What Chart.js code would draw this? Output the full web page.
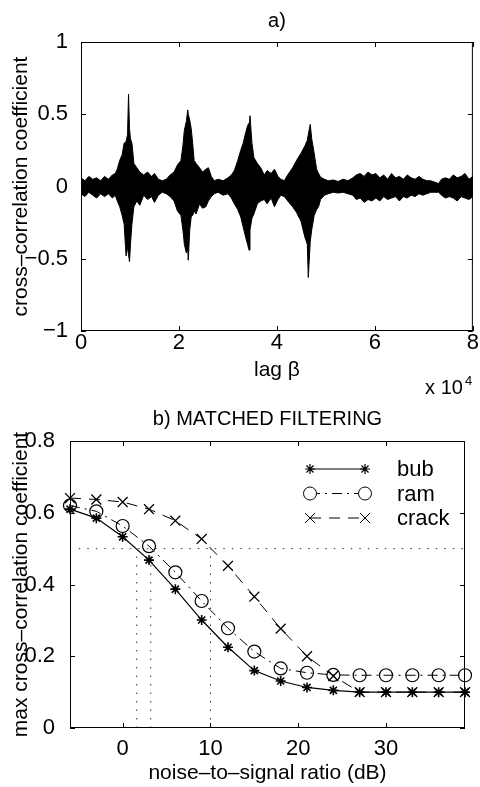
<!DOCTYPE html>
<html>
<head>
<meta charset="utf-8">
<script src="https://cdn.jsdelivr.net/npm/chart.js@4/dist/chart.umd.min.js"></script>
<style>
  html, body { margin: 0; padding: 0; background: #fff; }
  #wrap { position: relative; width: 480px; height: 787px; }
  .panel { position: absolute; left: 0; width: 480px; }
</style>
</head>
<body>
<div id="wrap">
  <div class="panel" style="top:0;height:400px"><canvas id="corrChart" width="480" height="400"></canvas></div>
  <div class="panel" style="top:400px;height:387px"><canvas id="mfChart" width="480" height="387"></canvas></div>
</div>
<script>
// ---- a) cross-correlation: envelope of the trace, lag in units of 1e4 ----
const lagK = [0.00, 0.08, 0.16, 0.24, 0.32, 0.40, 0.48, 0.56, 0.64, 0.70, 0.74, 0.79, 0.84, 0.88, 0.92, 0.95, 0.97, 0.99, 1.01, 1.04,
  1.08, 1.14, 1.20, 1.28, 1.36, 1.44, 1.50, 1.58, 1.66, 1.74, 1.82, 1.90, 1.97, 2.04, 2.08, 2.11, 2.15, 2.18, 2.19, 2.22,
  2.25, 2.28, 2.31, 2.35, 2.42, 2.48, 2.55, 2.60, 2.66, 2.72, 2.80, 2.90, 3.00, 3.07, 3.13, 3.20, 3.26, 3.31, 3.36, 3.40,
  3.43, 3.45, 3.49, 3.53, 3.60, 3.67, 3.74, 3.80, 3.88, 3.95, 4.02, 4.08, 4.15, 4.22, 4.32, 4.40, 4.49, 4.57, 4.62, 4.64,
  4.68, 4.71, 4.76, 4.81, 4.85, 4.89, 4.97, 5.05, 5.15, 5.25, 5.35, 5.45, 5.55, 5.62, 5.70, 5.78, 5.86, 5.94, 6.02, 6.10,
  6.18, 6.26, 6.34, 6.42, 6.50, 6.58, 6.66, 6.74, 6.82, 6.90, 6.98, 7.06, 7.14, 7.22, 7.30, 7.36, 7.44, 7.52, 7.60, 7.68,
  7.76, 7.84, 7.92, 8.00];
const corrUpper = [0.06, 0.04, 0.07, 0.05, 0.06, 0.04, 0.07, 0.05, 0.08, 0.09, 0.12, 0.18, 0.22, 0.30, 0.31, 0.36, 0.64, 0.40, 0.33, 0.30,
  0.16, 0.13, 0.10, 0.08, 0.10, 0.07, 0.09, 0.05, 0.04, 0.05, 0.08, 0.10, 0.15, 0.18, 0.28, 0.39, 0.45, 0.53, 0.50, 0.46,
  0.40, 0.30, 0.18, 0.16, 0.13, 0.10, 0.12, 0.13, 0.07, 0.04, 0.05, 0.04, 0.06, 0.08, 0.11, 0.18, 0.25, 0.30, 0.37, 0.42,
  0.44, 0.49, 0.30, 0.20, 0.16, 0.13, 0.08, 0.11, 0.09, 0.12, 0.07, 0.05, 0.04, 0.08, 0.13, 0.18, 0.23, 0.28, 0.32, 0.36,
  0.43, 0.33, 0.23, 0.12, 0.09, 0.065, 0.05, 0.04, 0.045, 0.035, 0.05, 0.04, 0.06, 0.08, 0.09, 0.07, 0.10, 0.08, 0.09, 0.06,
  0.08, 0.05, 0.09, 0.06, 0.07, 0.05, 0.08, 0.06, 0.05, 0.07, 0.05, 0.04, 0.04, 0.03, 0.02, 0.05, 0.06, 0.05, 0.08, 0.06,
  0.07, 0.09, 0.05, 0.07];
const corrLower = [-0.05, -0.07, -0.04, -0.06, -0.08, -0.05, -0.07, -0.05, -0.08, -0.06, -0.10, -0.14, -0.20, -0.26, -0.48, -0.42, -0.47, -0.52, -0.40, -0.26,
  -0.14, -0.10, -0.13, -0.06, -0.09, -0.07, -0.11, -0.06, -0.04, -0.05, -0.07, -0.10, -0.17, -0.20, -0.30, -0.40, -0.46, -0.44, -0.51, -0.30,
  -0.21, -0.20, -0.17, -0.19, -0.12, -0.15, -0.14, -0.10, -0.07, -0.05, -0.04, -0.06, -0.05, -0.08, -0.12, -0.16, -0.21, -0.28, -0.35, -0.40,
  -0.44, -0.30, -0.22, -0.19, -0.12, -0.10, -0.09, -0.12, -0.08, -0.14, -0.09, -0.06, -0.07, -0.10, -0.14, -0.18, -0.24, -0.35, -0.40, -0.63,
  -0.38, -0.30, -0.20, -0.16, -0.14, -0.09, -0.06, -0.05, -0.04, -0.045, -0.04, -0.05, -0.06, -0.09, -0.08, -0.11, -0.09, -0.10, -0.08, -0.10,
  -0.07, -0.09, -0.08, -0.07, -0.10, -0.07, -0.08, -0.06, -0.07, -0.05, -0.06, -0.05, -0.04, -0.04, -0.04, -0.06, -0.08, -0.07, -0.08, -0.10,
  -0.07, -0.08, -0.09, -0.07];
const lagTicks = [0, 2, 4, 6, 8];
const corrTicks = [-1, -0.5, 0, 0.5, 1];

// ---- b) matched filtering ----
const nsrDb = [-6, -3, 0, 3, 6, 9, 12, 15, 18, 21, 24, 27, 30, 33, 36, 39];
const bubMax = [0.61, 0.585, 0.533, 0.468, 0.387, 0.301, 0.225, 0.16, 0.131, 0.113, 0.105, 0.1, 0.1, 0.1, 0.1, 0.1];
const ramMax = [0.62, 0.604, 0.563, 0.507, 0.434, 0.354, 0.278, 0.213, 0.166, 0.154, 0.148, 0.147, 0.147, 0.147, 0.147, 0.147];
const crackMax = [0.641, 0.637, 0.63, 0.61, 0.578, 0.527, 0.452, 0.366, 0.277, 0.2, 0.145, 0.1, 0.1, 0.1, 0.1, 0.1];
const nsrTicks = [0, 10, 20, 30];
const maxTicks = [0, 0.2, 0.4, 0.6, 0.8];
const halfLevel = 0.5;
const halfStart = -5;
const halfCross = [1.6, 3.2, 10];

Chart.defaults.font.family = "'Liberation Sans', Arial, Helvetica, sans-serif";
Chart.defaults.color = '#000';

const fmt = v => String(v).replace('-', '\u2212');

// box around the axes with small inward ticks, matlab style
const boxTicks = {
    id: 'boxTicks',
    afterDatasetsDraw(chart) {
        const { ctx, chartArea: a, scales: { x, y } } = chart;
        const len = 5;
        ctx.save();
        ctx.strokeStyle = '#000';
        ctx.lineWidth = 1;
        ctx.strokeRect(a.left + 0.5, a.top + 0.5, a.width - 1, a.height - 1);
        ctx.beginPath();
        x.ticks.forEach(t => {
            const px = Math.round(x.getPixelForValue(t.value)) + 0.5;
            ctx.moveTo(px, a.bottom); ctx.lineTo(px, a.bottom - len);
            ctx.moveTo(px, a.top); ctx.lineTo(px, a.top + len);
        });
        y.ticks.forEach(t => {
            const py = Math.round(y.getPixelForValue(t.value)) + 0.5;
            ctx.moveTo(a.left, py); ctx.lineTo(a.left + len, py);
            ctx.moveTo(a.right, py); ctx.lineTo(a.right - len, py);
        });
        ctx.stroke();
        ctx.restore();
    }
};

// "x 10^4" exponent note under the lag axis
const expNote = {
    id: 'expNote',
    afterDraw(chart) {
        const { ctx, chartArea: a } = chart;
        ctx.save();
        ctx.fillStyle = '#000';
        ctx.textAlign = 'right';
        ctx.textBaseline = 'alphabetic';
        ctx.font = "20px 'Liberation Sans', Arial, sans-serif";
        ctx.fillText('x 10', a.right - 10, a.bottom + 63);
        ctx.textAlign = 'left';
        ctx.font = "13px 'Liberation Sans', Arial, sans-serif";
        ctx.fillText('4', a.right - 8, a.bottom + 54);
        ctx.restore();
    }
};

// legend drawn as marker-line-marker, like the original
const lineLegend = {
    id: 'lineLegend',
    afterDraw(chart) {
        const { ctx, chartArea: a } = chart;
        const items = chart.data.datasets.filter(d => d.inLegend);
        const x0 = a.right - 155, x1 = a.right - 100, tx = a.right - 68;
        ctx.save();
        items.forEach((d, i) => {
            const y = a.top + 28 + i * 24.5;
            ctx.strokeStyle = '#000';
            ctx.lineWidth = d.borderWidth;
            ctx.setLineDash(d.borderDash || []);
            ctx.beginPath();
            ctx.moveTo(x0, y); ctx.lineTo(x1, y);
            ctx.stroke();
            ctx.setLineDash([]);
            ctx.fillStyle = '#fff';
            [x0, x1].forEach(px => {
                Chart.helpers.drawPoint(ctx, {
                    pointStyle: d.pointStyle, radius: d.pointRadius,
                    borderWidth: d.pointBorderWidth, rotation: 0
                }, px, y);
            });
            ctx.fillStyle = '#000';
            ctx.font = "22px 'Liberation Sans', Arial, sans-serif";
            ctx.textAlign = 'left';
            ctx.textBaseline = 'middle';
            ctx.fillText(d.label, tx, y + 1);
        });
        ctx.restore();
    }
};

// --- a) ---
new Chart(document.getElementById('corrChart'), {
    type: 'line',
    data: {
        datasets: [
            {
                data: lagK.map((v, i) => ({ x: v, y: corrUpper[i] })),
                borderColor: '#000', borderWidth: 1, fill: false, pointRadius: 0, tension: 0
            },
            {
                // filled down from the upper envelope, so the band is solid
                data: lagK.map((v, i) => ({ x: v, y: corrLower[i] })),
                borderColor: '#000', borderWidth: 1, backgroundColor: '#000',
                fill: '-1', pointRadius: 0, tension: 0
            }
        ]
    },
    options: {
        responsive: false,
        animation: false,
        layout: { padding: { left: 0, right: 5, top: 0, bottom: 0 } },
        plugins: {
            legend: { display: false },
            tooltip: { enabled: false },
            title: {
                display: true, text: 'a)', fullSize: false,
                font: { size: 20, weight: 'normal' }, padding: { top: 9, bottom: 9 }
            }
        },
        scales: {
            x: {
                type: 'linear', min: 0, max: 8,
                afterBuildTicks: s => { s.ticks = lagTicks.map(v => ({ value: v })); },
                afterFit: s => { s.height = 69; },
                grid: { display: false, drawTicks: false }, border: { display: false },
                ticks: { font: { size: 22, lineHeight: 1 }, padding: 1, maxRotation: 0, callback: fmt },
                title: { display: true, text: 'lag \u03b2', font: { size: 21 }, padding: { top: 0, bottom: 17 } }
            },
            y: {
                min: -1, max: 1,
                afterBuildTicks: s => { s.ticks = corrTicks.map(v => ({ value: v })); },
                afterFit: s => { s.width = 81; },
                grid: { display: false }, border: { display: false },
                ticks: { font: { size: 22, lineHeight: 1 }, padding: 5, callback: fmt },
                title: { display: true, text: 'cross\u2013correlation coefficient', font: { size: 21 }, padding: { top: 9, bottom: 0 } }
            }
        }
    },
    plugins: [boxTicks, expNote]
});

// --- b) ---
const pts = arr => nsrDb.map((v, i) => ({ x: v, y: arr[i] }));
const refLine = (a, b) => ({
    data: [a, b], borderColor: '#333', borderWidth: 1, borderDash: [1.5, 7],
    pointRadius: 0, fill: false, inLegend: false
});

new Chart(document.getElementById('mfChart'), {
    type: 'line',
    data: {
        datasets: [
            refLine({ x: halfStart, y: halfLevel }, { x: nsrDb[nsrDb.length - 1], y: halfLevel }),
            ...halfCross.map(v => refLine({ x: v, y: 0 }, { x: v, y: halfLevel })),
            {
                label: 'bub', inLegend: true, data: pts(bubMax),
                borderColor: '#000', borderWidth: 1.2, borderDash: [],
                pointStyle: 'star', pointRadius: 5, pointBorderWidth: 1.6,
                pointBorderColor: '#000', pointBackgroundColor: '#000', clip: 10
            },
            {
                label: 'ram', inLegend: true, data: pts(ramMax),
                borderColor: '#000', borderWidth: 1, borderDash: [10, 5, 2, 5],
                pointStyle: 'circle', pointRadius: 6.5, pointBorderWidth: 1.2,
                pointBorderColor: '#000', pointBackgroundColor: 'rgba(255,255,255,0)', clip: 10
            },
            {
                label: 'crack', inLegend: true, data: pts(crackMax),
                borderColor: '#000', borderWidth: 1, borderDash: [11, 8],
                pointStyle: 'crossRot', pointRadius: 7, pointBorderWidth: 1.3,
                pointBorderColor: '#000', pointBackgroundColor: '#000', clip: 10
            }
        ]
    },
    options: {
        responsive: false,
        animation: false,
        layout: { padding: { left: 0, right: 15, top: 0, bottom: 0 } },
        plugins: {
            legend: { display: false },
            tooltip: { enabled: false },
            title: {
                display: true, text: 'b) MATCHED FILTERING', fullSize: false,
                font: { size: 20, weight: 'normal' }, padding: { top: 7, bottom: 10 }
            }
        },
        scales: {
            x: {
                type: 'linear', min: -6, max: 39,
                afterBuildTicks: s => { s.ticks = nsrTicks.map(v => ({ value: v })); },
                afterFit: s => { s.height = 59; },
                grid: { display: false, drawTicks: false }, border: { display: false },
                ticks: { font: { size: 22, lineHeight: 1 }, padding: 10, maxRotation: 0, callback: fmt },
                title: { display: true, text: 'noise\u2013to\u2013signal ratio (dB)', font: { size: 21 }, padding: { top: 0, bottom: 1 } }
            },
            y: {
                min: 0, max: 0.8,
                afterBuildTicks: s => { s.ticks = maxTicks.map(v => ({ value: v })); },
                afterFit: s => { s.width = 70; },
                grid: { display: false }, border: { display: false },
                ticks: { font: { size: 22, lineHeight: 1 }, padding: 7, callback: fmt },
                title: { display: true, text: 'max cross\u2013correlation coefficient', font: { size: 21 }, padding: { top: 9, bottom: 0 } }
            }
        }
    },
    plugins: [boxTicks, lineLegend]
});
</script>
</body>
</html>
